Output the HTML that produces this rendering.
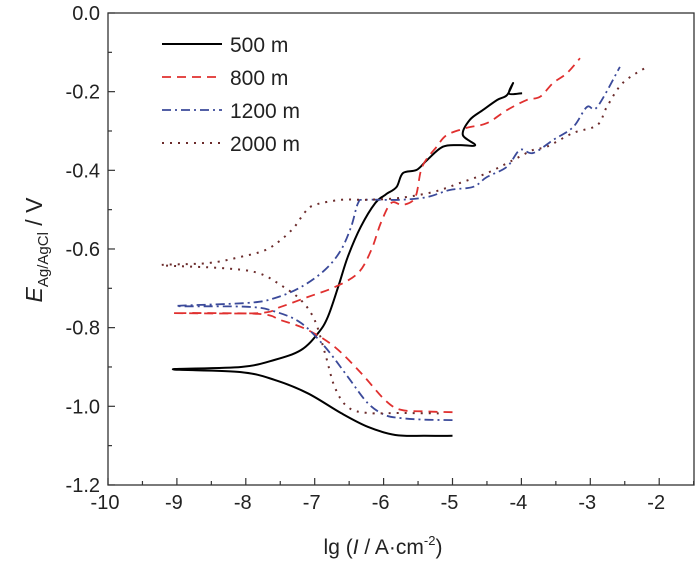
<!DOCTYPE html>
<html><head><meta charset="utf-8"><style>
html,body{margin:0;padding:0;background:#fff;width:700px;height:564px;overflow:hidden}
svg text{font-family:"Liberation Sans",Arial,sans-serif;fill:#222}
</style></head><body>
<svg id="chart" width="700" height="564" viewBox="0 0 700 564" xmlns="http://www.w3.org/2000/svg">
<g id="axes"></g>
<g id="series"></g>
<g id="legend"></g>
<text x="383" y="554" font-size="21" text-anchor="middle">lg (<tspan font-style="italic">I</tspan> / A·cm<tspan font-size="13" dy="-9">-2</tspan><tspan dy="9">)</tspan></text>
<text transform="translate(42,250) rotate(-90)" font-size="23" text-anchor="middle"><tspan font-style="italic">E</tspan><tspan font-size="15" dy="6">Ag/AgCl</tspan><tspan dy="-6"> / V</tspan></text>
</svg>
<script>
const xTicks = [-10,-9,-8,-7,-6,-5,-4,-3,-2];
const yTicks = [0.0,-0.2,-0.4,-0.6,-0.8,-1.0,-1.2];
const seriesNames = ["500 m","800 m","1200 m","2000 m"];
const lg500 = [-5.0,-5.4,-5.83,-6.23,-6.62,-7.1,-7.58,-8.07,-9.06,-8.07,-7.58,-7.2,-6.95,-6.81,-6.66,-6.52,-6.33,-6.12,-5.98,-5.94,-5.81,-5.72,-5.52,-5.37,-5.14,-4.89,-4.67,-4.85,-4.75,-4.56,-4.35,-4.21,-4.12,-4.18,-3.99];
const E500 = [-1.075,-1.075,-1.073,-1.052,-1.017,-0.967,-0.933,-0.913,-0.906,-0.9,-0.882,-0.857,-0.814,-0.773,-0.697,-0.62,-0.543,-0.483,-0.463,-0.458,-0.442,-0.407,-0.399,-0.374,-0.34,-0.336,-0.336,-0.31,-0.272,-0.247,-0.221,-0.209,-0.178,-0.205,-0.204];
const lg800 = [-5.0,-5.4,-5.75,-5.98,-6.33,-6.71,-7.1,-7.49,-7.82,-9.06,-7.82,-7.49,-7.1,-6.71,-6.37,-6.18,-6.04,-5.89,-5.72,-5.54,-5.44,-5.23,-5.08,-4.79,-4.5,-4.21,-3.92,-3.73,-3.54,-3.34,-3.15];
const E800 = [-1.015,-1.013,-1.009,-0.984,-0.915,-0.849,-0.806,-0.781,-0.765,-0.763,-0.763,-0.747,-0.722,-0.697,-0.661,-0.603,-0.534,-0.483,-0.488,-0.468,-0.391,-0.34,-0.31,-0.292,-0.28,-0.247,-0.221,-0.213,-0.178,-0.153,-0.115];
const lg1200 = [-5.0,-5.4,-5.75,-5.98,-6.23,-6.52,-6.85,-7.2,-7.58,-7.97,-9.01,-7.97,-7.58,-7.2,-6.85,-6.62,-6.47,-6.37,-6.27,-5.76,-5.37,-5.04,-4.7,-4.5,-4.21,-4.02,-3.83,-3.54,-3.25,-3.05,-2.9,-2.57];
const E1200 = [-1.035,-1.034,-1.03,-1.022,-0.992,-0.925,-0.849,-0.788,-0.759,-0.747,-0.745,-0.737,-0.725,-0.697,-0.653,-0.603,-0.543,-0.483,-0.475,-0.475,-0.468,-0.45,-0.442,-0.417,-0.391,-0.348,-0.356,-0.323,-0.29,-0.239,-0.239,-0.137];
const lg2000 = [-5.2,-5.75,-6.23,-6.52,-6.71,-6.85,-7.0,-7.2,-7.49,-7.82,-8.3,-9.23,-8.55,-8.07,-7.72,-7.49,-7.29,-7.14,-7.0,-6.62,-6.24,-5.76,-5.28,-4.89,-4.5,-4.12,-3.83,-3.63,-3.25,-2.9,-2.76,-2.53,-2.18];
const E2000 = [-1.018,-1.017,-1.017,-1.002,-0.951,-0.865,-0.781,-0.73,-0.692,-0.661,-0.649,-0.641,-0.636,-0.62,-0.603,-0.577,-0.543,-0.506,-0.488,-0.475,-0.475,-0.47,-0.455,-0.432,-0.407,-0.374,-0.348,-0.34,-0.305,-0.285,-0.239,-0.178,-0.137];

const NS="http://www.w3.org/2000/svg";
const X0=108,X1=694,Y0=13,Y1=485;
function sx(v){return X0+(v+10)*68.9;}
function sy(v){return Y0-v*393.3;}
function mk(tag,parent){const e=document.createElementNS(NS,tag);parent.appendChild(e);return e;}
function smooth(pts){
  let d='M'+pts[0][0].toFixed(1)+' '+pts[0][1].toFixed(1);
  for(let i=0;i<pts.length-1;i++){
    const p0=pts[Math.max(0,i-1)],p1=pts[i],p2=pts[i+1],p3=pts[Math.min(pts.length-1,i+2)];
    const k=1/6;
    const c1=[p1[0]+(p2[0]-p0[0])*k,p1[1]+(p2[1]-p0[1])*k];
    const c2=[p2[0]-(p3[0]-p1[0])*k,p2[1]-(p3[1]-p1[1])*k];
    d+=' C'+c1[0].toFixed(1)+' '+c1[1].toFixed(1)+' '+c2[0].toFixed(1)+' '+c2[1].toFixed(1)+' '+p2[0].toFixed(1)+' '+p2[1].toFixed(1);
  }
  return d;
}
const axes=document.getElementById('axes');
const frame=mk('rect',axes);


frame.setAttribute('x',X0);frame.setAttribute('y',Y0);frame.setAttribute('width',X1-X0);frame.setAttribute('height',Y1-Y0);
frame.setAttribute('fill','none');frame.setAttribute('stroke','#333');frame.setAttribute('stroke-width','1.3');
for(let v=-10;v<=-1.5;v+=0.5){
  const t=mk('line',axes);
  
  
  const L=Number.isInteger(v)?7:4;
  t.setAttribute('x1',sx(v));t.setAttribute('x2',sx(v));t.setAttribute('y1',Y1);t.setAttribute('y2',Y1-L);t.setAttribute('stroke','#333');t.setAttribute('stroke-width','1.2');
}
xTicks.forEach(v=>{
  const t=mk('text',axes);
  
  
  t.setAttribute('x',sx(v)-3);t.setAttribute('y',Y1+24);t.setAttribute('font-size','20');t.setAttribute('text-anchor','middle');t.textContent=v;
});
for(let i=0;i<=12;i++){
  const v=-i*0.1;
  const t=mk('line',axes);
  
  
  const L=i%2===0?7:4;
  t.setAttribute('x1',X0);t.setAttribute('x2',X0+L);t.setAttribute('y1',sy(v));t.setAttribute('y2',sy(v));t.setAttribute('stroke','#333');t.setAttribute('stroke-width','1.2');
}
yTicks.forEach(v=>{
  const t=mk('text',axes);
  
  
  t.setAttribute('x',X0-8);t.setAttribute('y',sy(v)+7);t.setAttribute('font-size','20');t.setAttribute('text-anchor','end');t.textContent=v.toFixed(1);
});
const styles=[
  {c:'#000',d:'',w:2},
  {c:'#e0302f',d:'9 6',w:1.8},
  {c:'#3b4a9a',d:'9 4 2 4',w:1.8},
  {c:'#6b2b2b',d:'2 6',w:2}
];
const data=[[lg500,E500],[lg800,E800],[lg1200,E1200],[lg2000,E2000]];
const sg=document.getElementById('series');
data.forEach((s,i)=>{
  const p=mk('path',sg);
  
  
  p.setAttribute('d',smooth(s[0].map((x,j)=>[sx(x),sy(s[1][j])])));
  p.setAttribute('fill','none');p.setAttribute('stroke',styles[i].c);p.setAttribute('stroke-width',styles[i].w);
  p.setAttribute('stroke-linejoin','round');
  if(styles[i].d)p.setAttribute('stroke-dasharray',styles[i].d);
});
const lg=document.getElementById('legend');
seriesNames.forEach((n,i)=>{
  const y=44+i*33;
  const l=mk('line',lg);
  
  
  l.setAttribute('x1',162);l.setAttribute('x2',222);l.setAttribute('y1',y);l.setAttribute('y2',y);
  l.setAttribute('stroke',styles[i].c);l.setAttribute('stroke-width',styles[i].w);
  if(styles[i].d)l.setAttribute('stroke-dasharray',styles[i].d);
  const t=mk('text',lg);
  
  
  t.setAttribute('x',230);t.setAttribute('y',y+8);t.setAttribute('font-size','21');t.textContent=n;
});
</script>
</body></html>
